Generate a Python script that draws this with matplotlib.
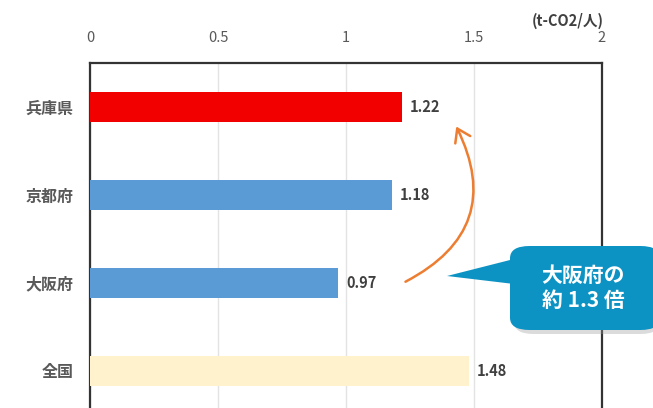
import matplotlib
matplotlib.use("Agg")
import matplotlib.pyplot as plt
from matplotlib.patches import FancyBboxPatch, Polygon, FancyArrowPatch

plt.rcParams['font.family'] = ['Noto Sans CJK JP', 'DejaVu Sans']

categories = ['兵庫県', '京都府', '大阪府', '全国']
values = [1.22, 1.18, 0.97, 1.48]
colors = ['#F20000', '#5B9BD5', '#5B9BD5', '#FFF2CC']
xticks = [0, 0.5, 1, 1.5, 2]
xtick_labels = ['0', '0.5', '1', '1.5', '2']
unit_label = '(t-CO2/人)'
callout_text = '大阪府の\n約 1.3 倍'

W, H = 653, 408
fig = plt.figure(figsize=(W / 100, H / 100), dpi=100)
fig.patch.set_facecolor('white')

def fx(px):
    return px / W

def fy(py):
    return 1 - py / H

ax = fig.add_axes([fx(90), fy(415), fx(602) - fx(90), fy(63) - fy(415)])
y = list(range(len(categories)))
ax.barh(y, values, height=0.34, color=colors, zorder=3)
ax.set_xlim(0, 2)
ax.set_ylim(3.5, -0.5)
ax.set_yticks(y)
ax.set_yticklabels(categories, fontsize=11.5, fontweight='bold', color='#595959')
ax.set_xticks(xticks)
ax.set_xticklabels(xtick_labels, fontsize=10.5, color='#595959')
ax.xaxis.tick_top()
ax.tick_params(axis='y', length=0, pad=12)
ax.tick_params(axis='x', length=0, pad=13)
ax.grid(axis='x', color='#E3E3E3', linewidth=1, zorder=0)
for s in ax.spines.values():
    s.set_color('#333333')
    s.set_linewidth(1.6)

for yi, v in zip(y, values):
    ax.text(v + 0.03, yi, f'{v:.2f}', va='center', ha='left', fontsize=10.5,
            fontweight='bold', color='#404040', zorder=4)

fig.text(fx(604), fy(21), unit_label, ha='right', va='center', fontsize=10.5,
         fontweight='bold', color='#404040')

# curved arrow
arrow = FancyArrowPatch((fx(403), fy(283)), (fx(455), fy(124)), transform=fig.transFigure,
                        connectionstyle='arc3,rad=0.5', arrowstyle='->,head_length=6,head_width=4',
                        color='#ED7D31', lw=1.8, mutation_scale=1.5)
fig.add_artist(arrow)

# callout shadow
shadow = FancyBboxPatch((fx(514), fy(334)), fx(660) - fx(514), fy(249) - fy(334),
                        boxstyle='round,pad=0,rounding_size=0.03', transform=fig.transFigure,
                        facecolor='#9A9A9A', edgecolor='none', alpha=0.35, zorder=5)
fig.add_artist(shadow)
pointer = Polygon([(fx(447), fy(276)), (fx(514), fy(259)), (fx(514), fy(284))],
                  closed=True, transform=fig.transFigure, facecolor='#0C93C4',
                  edgecolor='none', zorder=6)
fig.add_artist(pointer)
box = FancyBboxPatch((fx(510), fy(330)), fx(660) - fx(510), fy(246) - fy(330),
                     boxstyle='round,pad=0,rounding_size=0.03', transform=fig.transFigure,
                     facecolor='#0C93C4', edgecolor='none', zorder=6)
fig.add_artist(box)
fig.text(fx(583), fy(288), callout_text, ha='center', va='center', fontsize=15,
         fontweight='bold', color='white', linespacing=1.2, zorder=7)

fig.savefig('out.png', dpi=100, facecolor='white')
